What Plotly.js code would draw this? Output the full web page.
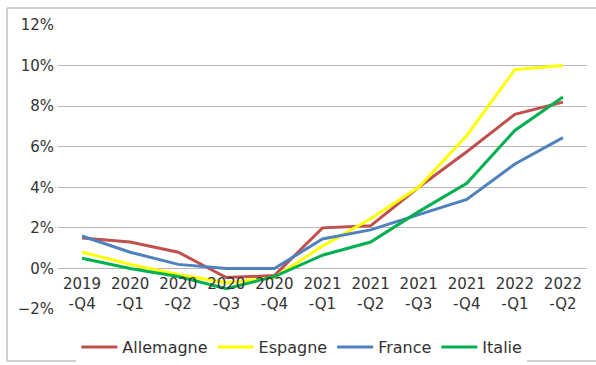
<!DOCTYPE html>
<html>
<head>
<meta charset="utf-8">
<script src="https://cdn.plot.ly/plotly-3.0.1.min.js"></script>
<style>html,body{margin:0;padding:0;background:#fff;}#chart{width:596px;height:365px;}</style>
</head>
<body>
<div id="chart"></div>
<script>
const categories = ["2019<br>-Q4","2020<br>-Q1","2020<br>-Q2","2020<br>-Q3","2020<br>-Q4","2021<br>-Q1","2021<br>-Q2","2021<br>-Q3","2021<br>-Q4","2022<br>-Q1","2022<br>-Q2"];
const allemagne = [1.5, 1.3, 0.8, -0.45, -0.35, 2.0, 2.1, 4.0, 5.75, 7.6, 8.2];
const espagne   = [0.8, 0.2, -0.3, -0.7, -0.45, 1.1, 2.45, 4.0, 6.55, 9.8, 10.0];
const france    = [1.6, 0.8, 0.2, 0.0, 0.0, 1.45, 1.9, 2.65, 3.4, 5.15, 6.45];
const italie    = [0.5, 0.0, -0.4, -1.0, -0.4, 0.65, 1.3, 2.8, 4.2, 6.8, 8.45];
const seriesNames = ["Allemagne","Espagne","France","Italie"];
const seriesColors = ["#c0504d","#ffff00","#4f81bd","#00b050"];
const seriesData = [allemagne, espagne, france, italie];

const traces = seriesData.map((vals, i) => ({
  type: "scatter", mode: "lines",
  x: categories, y: vals.map(v => v / 100),
  name: seriesNames[i],
  line: {color: seriesColors[i], width: 3}
}));

const yMin = -0.02, yMax = 0.12;
const layout = {
  width: 596, height: 365,
  margin: {l: 58, r: 9, t: 25, b: 56, autoexpand: false},
  paper_bgcolor: "#ffffff", plot_bgcolor: "#ffffff",
  font: {family: "DejaVu Sans", size: 15, color: "#333333"},
  showlegend: true,
  legend: {orientation: "h", x: 0.461, xanchor: "center", y: -0.134, yanchor: "middle",
           font: {size: 16, color: "#333333"}, itemwidth: 36, tracegroupgap: 0},
  xaxis: {
    type: "category", range: [-0.5, 10.5],
    anchor: "free", position: (0 - yMin) / (yMax - yMin),
    showgrid: false, zeroline: false, showline: false,
    ticks: "", ticklabelstandoff: 5,
    tickfont: {size: 15, color: "#333333"}, fixedrange: true
  },
  yaxis: {
    range: [yMin, yMax], dtick: 0.02, tickformat: ".0%",
    showgrid: true, gridcolor: "#b8b8b8", gridwidth: 1,
    zeroline: false, showline: false, ticks: "", ticklabelstandoff: 3,
    tickfont: {size: 15, color: "#333333"}, fixedrange: true
  },
  shapes: [
    {type: "line", xref: "paper", yref: "paper", x0: -51/529, x1: 1.05, y0: 1 + 17/284, y1: 1 + 17/284,
     line: {color: "#d0d0d0", width: 2}},
    {type: "line", xref: "paper", yref: "paper", x0: -51/529, x1: -51/529, y0: 1 + 17/284, y1: -52/284,
     line: {color: "#d0d0d0", width: 2}},
    {type: "line", xref: "paper", yref: "paper", x0: -51/529, x1: 1.05, y0: -52/284, y1: -52/284,
     line: {color: "#d0d0d0", width: 2}}
  ]
};

Plotly.newPlot("chart", traces, layout, {displayModeBar: false, staticPlot: true});
</script>
</body>
</html>
